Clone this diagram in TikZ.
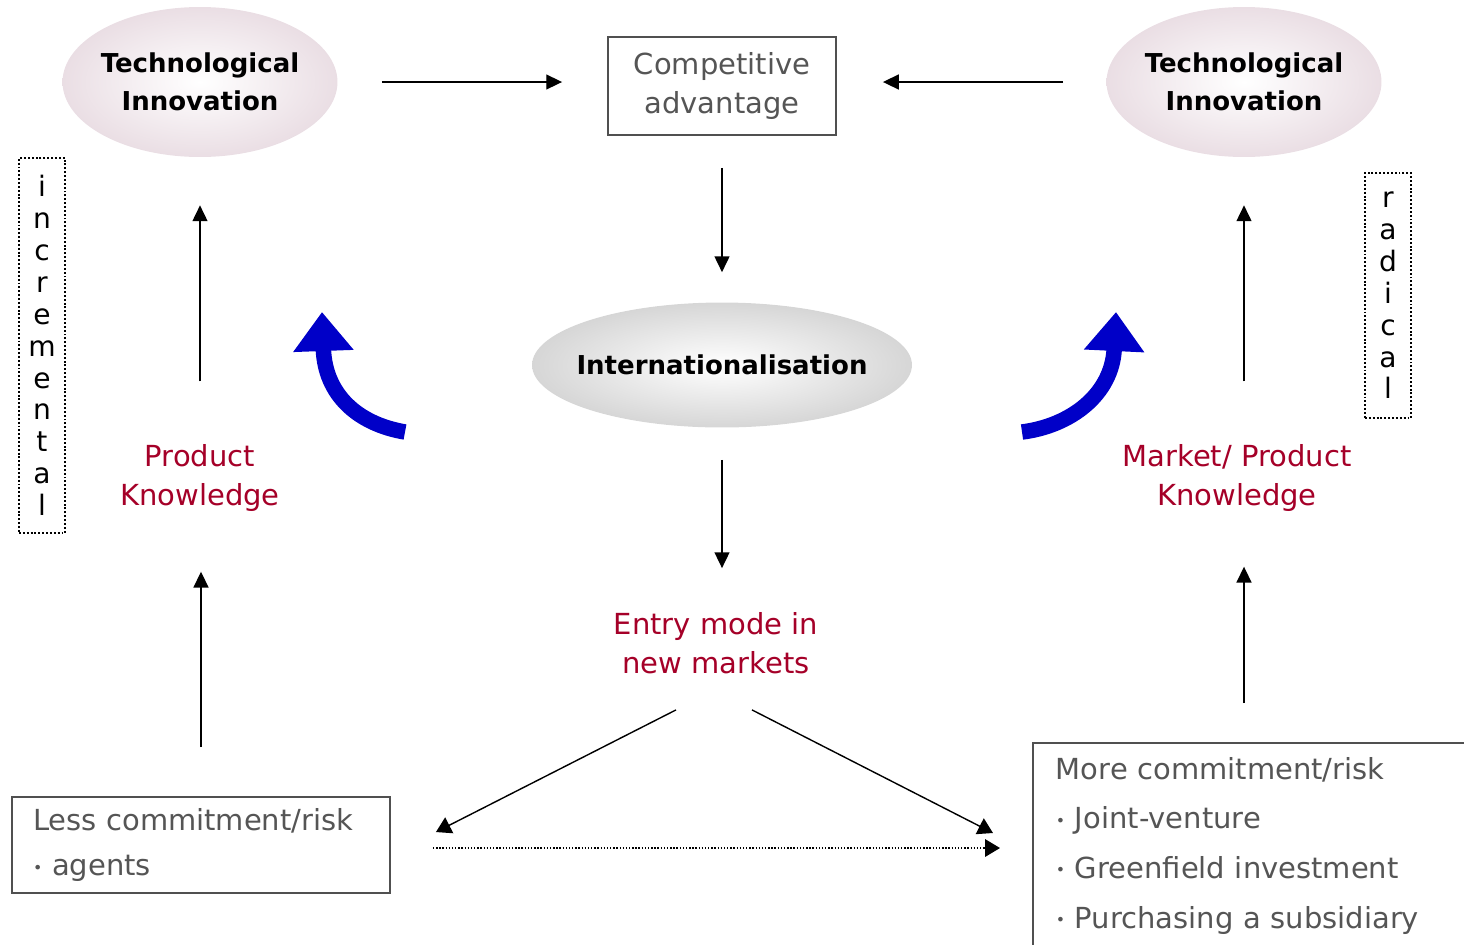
\documentclass[tikz,border=0pt]{standalone}
\usepackage{fontspec}
\setmainfont{DejaVu Sans}
\usetikzlibrary{arrows.meta, shapes.geometric, positioning}

\definecolor{knowred}{RGB}{165,0,40}
\definecolor{txtgrey}{RGB}{85,85,85}
\definecolor{boxgrey}{RGB}{80,80,80}
\definecolor{innopink}{RGB}{234,222,228}
\definecolor{intlgrey}{RGB}{214,214,214}
\definecolor{swoosh}{RGB}{0,0,200}

\newcommand{\regtext}{\fontsize{16.5}{22}\selectfont}
\newcommand{\boldtext}{\bfseries\fontsize{14.8}{21.5}\selectfont}
\newcommand{\dotbullet}{\raisebox{1.6pt}{\fontsize{9}{9}\selectfont\textbullet}\ }

\tikzset{
  inno/.style={ellipse, minimum width=5.5cm, minimum height=3cm, inner xsep=-0.6cm,
    inner ysep=0pt, shading=radial, inner color=white, outer color=innopink,
    align=center, font=\boldtext},
  intl/.style={ellipse, minimum width=7.6cm, minimum height=2.5cm, inner xsep=-1cm,
    inner ysep=0pt, shading=radial, inner color=white, outer color=intlgrey, font=\boldtext},
  greybox/.style={draw=boxgrey, line width=1.1pt, text=txtgrey},
  redtext/.style={text=knowred, align=center, font=\regtext, inner sep=0pt},
  vertword/.style={draw, line width=1.1pt, dash pattern=on 1.1pt off 1.1pt,
    minimum width=0.92cm, align=center, font=\fontsize{16}{18.14}\selectfont},
  arr/.style={-{Triangle[length=9pt,width=8.5pt]}, line width=0.8pt},
  bigarr/.style={-{Triangle[length=8.5pt,width=10pt]}, line width=0.8pt},
  dotarr/.style={bigarr, densely dotted},
  bluearr/.style={draw=swoosh, line width=0.31cm,
    -{Triangle[length=0.78cm,width=1.16cm,fill=swoosh]}}
}

\begin{document}
\begin{tikzpicture}[x=0.02cm, y=-0.02cm]
\path[use as bounding box, clip] (0,0) rectangle (1464,944);

% top row
\node[inno] (tlinno) at (200,82) {Technological\\Innovation};
\node[inno] (trinno) at (1244,82) {Technological\\Innovation};
\node[greybox, minimum width=4.56cm, minimum height=1.96cm, align=center, font=\regtext]
  (comp) at (722,86) {Competitive\\advantage};

% middle column
\node[intl] (intern) at (722,365) {Internationalisation};
\node[redtext] (entry) at (716,643) {Entry mode in\\new markets};

% knowledge labels
\node[redtext] (prodk) at (200,478) {Product\\Knowledge};
\node[redtext] (markk) at (1237,478) {Market/ Product\\Knowledge};

% commitment boxes
\node[greybox, minimum width=7.56cm, minimum height=1.92cm, text width=6.72cm,
  inner xsep=0.42cm, align=left, font=\fontsize{16.5}{26}\selectfont]
  (less) at (201,845) {Less commitment/risk\\\dotbullet agents};
\node[greybox, anchor=north west, text width=8.28cm, inner xsep=0.46cm, inner ysep=0.28cm,
  align=left, font=\fontsize{16.5}{28.35}\selectfont]
  (more) at (1032,742) {More commitment/risk\\\dotbullet Joint-venture\\
  \dotbullet Greenfield investment\\\dotbullet Purchasing a subsidiary};

% vertical words
\node[vertword, minimum height=7.5cm] (incr) at (42,345.5) {i\\n\\c\\r\\e\\m\\e\\n\\t\\a\\l};
\node[vertword, minimum height=4.9cm] (radi) at (1388,295.5) {r\\a\\d\\i\\c\\a\\l};

% arrows
\draw[arr, shorten <=0.88cm, shorten >=0.9cm] (tlinno.east) -- (tlinno.east -| comp.west);
\draw[arr, shorten <=0.86cm, shorten >=0.92cm] (trinno.west) -- (trinno.west -| comp.east);
\draw[arr, shorten <=0.64cm, shorten >=0.6cm] (comp.south) -- (intern.north);
\draw[arr, shorten <=0.64cm, shorten >=0.88cm] (intern.south) -- (intern.south |- entry.north);

\draw[arr, shorten <=0.98cm, shorten >=1.2cm] (less.north) -- (less.north |- prodk.south);
\draw[arr, shorten <=1.26cm, shorten >=0.96cm] (prodk.north) -- (tlinno.south);
\draw[arr, shorten <=0.78cm, shorten >=1.1cm] (trinno.south |- more.north) -- (trinno.south |- markk.south);
\draw[arr, shorten <=1.26cm, shorten >=0.96cm] (trinno.south |- markk.north) -- (trinno.south);

\draw[bigarr] ([shift={(-40,36)}]entry.south) -- ([shift={(45,36)}]less.north east);
\draw[bigarr] ([shift={(36,36)}]entry.south) -- ([shift={(-39,91)}]more.north west);
\draw[dotarr] ([shift={(42,3)}]less.east) -- ([shift={(-32,3)}]less.east -| more.west);

% blue swooshes
\coordinate (lswtail) at (405,432);
\coordinate (lswtip) at (322,312);
\coordinate (rswtail) at (1022,432);
\coordinate (rswtip) at (1116,312);
\draw[bluearr] (lswtail) .. controls (358,424) and (325,395) .. (lswtip);
\draw[bluearr] (rswtail) .. controls (1070,426) and (1112,395) .. (rswtip);
\end{tikzpicture}
\end{document}
